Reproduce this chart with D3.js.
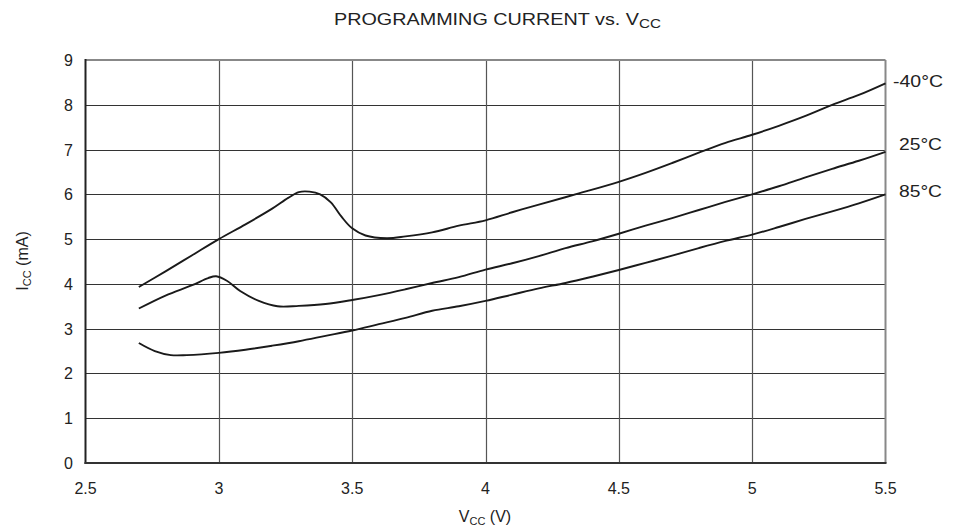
<!DOCTYPE html>
<html>
<head>
<meta charset="utf-8">
<script src="https://cdn.jsdelivr.net/npm/d3@7"></script>
<style>
  body { margin: 0; background: #fff; }
  text { font-family: "Liberation Sans", Arial, sans-serif; fill: #222; }
</style>
</head>
<body>
<svg id="chart" width="959" height="531"></svg>
<script>
// tick values
var xTicks = [2.5, 3, 3.5, 4, 4.5, 5, 5.5];
var yTicks = [0, 1, 2, 3, 4, 5, 6, 7, 8, 9];

// series (Vcc in V, Icc in mA)
var seriesNames = ['-40°C', '25°C', '85°C'];
var vMinus40 = [2.7, 2.8, 2.9, 3.0, 3.1, 3.2, 3.26, 3.3, 3.34, 3.38, 3.42, 3.46, 3.5, 3.55, 3.63, 3.7, 3.8, 3.9, 4.0, 4.1, 4.2, 4.35, 4.5, 4.6, 4.7, 4.8, 4.9, 5.0, 5.1, 5.2, 5.3, 5.4, 5.5];
var iMinus40 = [3.93, 4.28, 4.64, 5.0, 5.33, 5.68, 5.92, 6.05, 6.06, 6.0, 5.82, 5.5, 5.24, 5.08, 5.02, 5.06, 5.15, 5.3, 5.42, 5.6, 5.77, 6.02, 6.28, 6.48, 6.7, 6.93, 7.15, 7.33, 7.53, 7.75, 8.0, 8.22, 8.48];
var v25 = [2.7, 2.8, 2.9, 2.96, 2.99, 3.03, 3.08, 3.15, 3.22, 3.3, 3.4, 3.5, 3.6, 3.7, 3.8, 3.9, 4.0, 4.1, 4.2, 4.3, 4.4, 4.5, 4.6, 4.7, 4.8, 4.9, 5.0, 5.1, 5.2, 5.3, 5.4, 5.5];
var i25 = [3.45, 3.74, 3.97, 4.13, 4.17, 4.07, 3.84, 3.62, 3.5, 3.51, 3.55, 3.64, 3.75, 3.88, 4.02, 4.15, 4.32, 4.46, 4.62, 4.8, 4.95, 5.12, 5.3, 5.47, 5.65, 5.83, 6.0, 6.18, 6.38, 6.57, 6.75, 6.95];
var v85 = [2.7, 2.76, 2.82, 2.88, 3.0, 3.1, 3.2, 3.3, 3.4, 3.5, 3.6, 3.7, 3.8, 3.9, 4.0, 4.1, 4.2, 4.3, 4.4, 4.5, 4.6, 4.7, 4.8, 4.9, 5.0, 5.1, 5.2, 5.3, 5.4, 5.5];
var i85 = [2.68, 2.5, 2.41, 2.41, 2.46, 2.53, 2.62, 2.72, 2.84, 2.96, 3.1, 3.24, 3.4, 3.5, 3.62, 3.76, 3.9, 4.02, 4.16, 4.31, 4.47, 4.63, 4.8, 4.96, 5.1, 5.27, 5.45, 5.62, 5.8, 6.0];

var svg = d3.select('#chart');
var plotL = 85.5, plotR = 885.5, plotT = 60, plotB = 463;

var x = d3.scaleLinear().domain([2.5, 5.5]).range([plotL, plotR]);
var y = d3.scaleLinear().domain([0, 9]).range([plotB, plotT]);

// grid
svg.append('g').selectAll('line')
  .data(yTicks.slice(1, -1))
  .enter().append('line')
  .attr('x1', plotL).attr('x2', plotR)
  .attr('y1', function(d) { return Math.round(y(d)) + 0.5; })
  .attr('y2', function(d) { return Math.round(y(d)) + 0.5; })
  .style('stroke', '#333').style('stroke-width', 1.2);

svg.append('g').selectAll('line')
  .data(xTicks.slice(1, -1))
  .enter().append('line')
  .attr('y1', plotT).attr('y2', plotB)
  .attr('x1', function(d) { return Math.round(x(d)) + 0.5; })
  .attr('x2', function(d) { return Math.round(x(d)) + 0.5; })
  .style('stroke', '#555').style('stroke-width', 1.2);

// frame: top/right lighter, left/bottom dark
svg.append('line').attr('x1', plotL).attr('x2', plotR).attr('y1', plotT).attr('y2', plotT)
  .style('stroke', '#888').style('stroke-width', 2);
svg.append('line').attr('x1', plotR).attr('x2', plotR).attr('y1', plotT).attr('y2', plotB)
  .style('stroke', '#888').style('stroke-width', 2);
svg.append('line').attr('x1', plotL).attr('x2', plotL).attr('y1', plotT - 1).attr('y2', plotB + 1)
  .style('stroke', '#222').style('stroke-width', 2);
svg.append('line').attr('x1', plotL - 1).attr('x2', plotR + 1).attr('y1', plotB).attr('y2', plotB)
  .style('stroke', '#333').style('stroke-width', 2);

// tick labels
svg.append('g').selectAll('text')
  .data(yTicks)
  .enter().append('text')
  .attr('x', 73).attr('y', function(d) { return y(d) + 6; })
  .attr('text-anchor', 'end')
  .style('font-size', '16px')
  .text(function(d) { return d; });

svg.append('g').selectAll('text')
  .data(xTicks)
  .enter().append('text')
  .attr('x', function(d) { return x(d); }).attr('y', 494)
  .attr('text-anchor', 'middle')
  .style('font-size', '16px')
  .text(function(d) { return d; });

// title (the original lettering is a bit wider than Liberation Sans)
var title = svg.append('text').attr('x', 334).attr('y', 25)
  .style('font-size', '16.5px');
title.append('tspan').attr('textLength', 305).attr('lengthAdjust', 'spacingAndGlyphs')
  .text('PROGRAMMING CURRENT vs. V');
title.append('tspan').attr('dy', 3).style('font-size', '12px')
  .attr('textLength', 22).attr('lengthAdjust', 'spacingAndGlyphs').text('CC');

// x label
var xl = svg.append('text').attr('x', 485).attr('y', 522).attr('text-anchor', 'middle')
  .style('font-size', '16px');
xl.append('tspan').text('V');
xl.append('tspan').attr('dy', 3).style('font-size', '11px').text('CC');
xl.append('tspan').attr('dy', -3).text(' (V)');

// y label
var yl = svg.append('text').attr('transform', 'translate(28,261) rotate(-90)').attr('text-anchor', 'middle')
  .style('font-size', '16px');
yl.append('tspan').text('I');
yl.append('tspan').attr('dy', 3).style('font-size', '11px').text('CC');
yl.append('tspan').attr('dy', -3).text(' (mA)');

// curves
var curves = [
  d3.zip(vMinus40, iMinus40),
  d3.zip(v25, i25),
  d3.zip(v85, i85)
];
var line = d3.line()
  .x(function(d) { return x(d[0]); })
  .y(function(d) { return y(d[1]); })
  .curve(d3.curveCatmullRom.alpha(0.5));

svg.append('g').selectAll('path')
  .data(curves)
  .enter().append('path')
  .attr('d', line)
  .style('fill', 'none')
  .style('stroke', '#1a1a1a')
  .style('stroke-width', 1.9);

// series labels at the right end
var labelY = [8.53, 7.12, 6.07];
var labelX = [893, 899, 899];
var labelW = [50, 43, 43];
svg.append('g').selectAll('text')
  .data(seriesNames)
  .enter().append('text')
  .attr('x', function(d, i) { return labelX[i]; })
  .attr('y', function(d, i) { return y(labelY[i]) + 6; })
  .attr('textLength', function(d, i) { return labelW[i]; })
  .attr('lengthAdjust', 'spacingAndGlyphs')
  .style('font-size', '17px')
  .text(function(d) { return d; });
</script>
</body>
</html>
